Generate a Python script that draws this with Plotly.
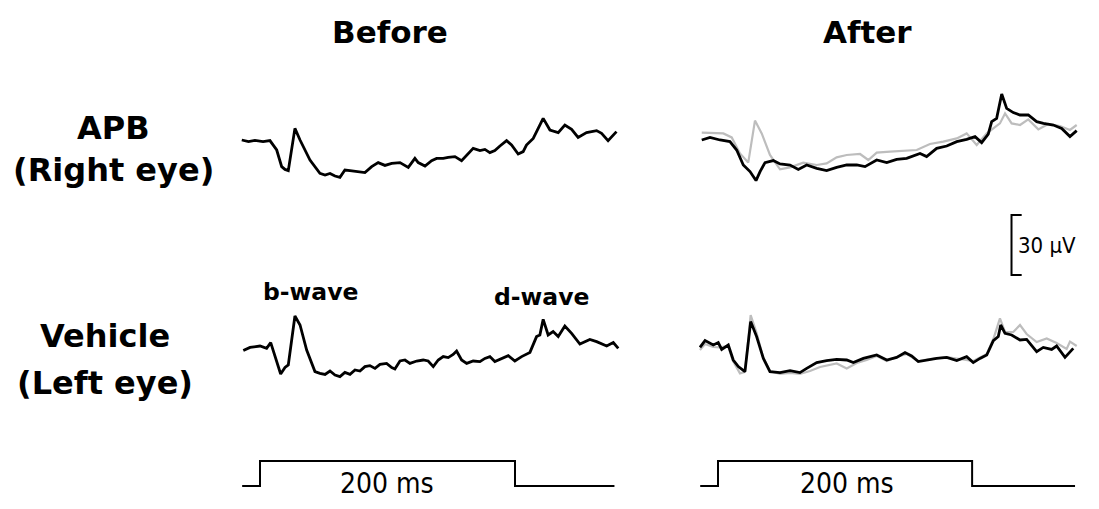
import plotly.graph_objects as go

# ---------------- data (time in ms from flash onset, amplitude in µV) ----------------
apb_before_t = [-14.3, -9.0, -4.0, 2.4, 7.8, 13.1, 17.0, 19.6, 22.2, 27.4,
                31.4, 39.2, 47.0, 51.0, 54.9, 58.8, 62.7, 66.6, 70.6, 75.8,
                82.3, 87.6, 92.7, 98.0, 103.3, 109.8, 116.3, 121.5, 124.1, 129.4,
                134.6, 138.5, 143.7, 147.6, 152.9, 158.1, 162.1, 167.2, 172.5, 176.4,
                180.3, 184.2, 188.2, 193.4, 197.3, 202.5, 206.4, 209.0, 214.3, 218.2,
                222.1, 227.4, 233.9, 239.1, 244.4, 249.5, 256.1, 264.0, 267.9, 273.0,
                279.6]
apb_before_v = [5.0, 4.2, 4.8, 4.2, 4.7, 0.0, -8.3, -9.7, -10.3, 10.8,
                5.0, -5.0, -11.7, -12.5, -11.7, -13.0, -13.7, -10.0, -10.3, -10.8,
                -11.3, -8.3, -6.3, -7.7, -6.7, -6.3, -8.7, -4.2, -6.3, -8.0,
                -5.3, -4.2, -4.2, -3.7, -3.3, -5.3, -2.5, 0.8, -0.3, 0.3,
                -1.3, -0.3, 2.0, 4.7, 2.5, -2.0, -0.8, 2.5, 5.8, 10.8,
                15.8, 10.0, 8.7, 12.5, 10.3, 6.3, 8.7, 9.7, 8.3, 4.7,
                9.2]

apb_after_t = [-12.8, -6.3, 1.6, 9.4, 14.7, 19.9, 25.2, 29.9, 33.1, 37.0, 43.5, 48.8, 56.7, 63.2,
               69.8, 77.7, 85.5, 93.4, 101.3, 109.2, 115.7, 124.9, 132.8, 140.6, 148.5, 159.0,
               164.2, 172.1, 180.0, 187.9, 195.7, 202.3, 207.5, 212.7, 215.4, 219.3, 223.3, 227.2,
               232.4, 237.7, 244.2, 250.8, 256.1, 263.9, 270.5, 277.0, 282.3]
apb_after_v = [5.0, 6.3, 5.0, 4.2, 0.0, -7.5, -10.8, -15.3, -10.8, -6.3, -5.3, -7.0, -7.5, -9.7,
               -7.5, -9.2, -10.3, -8.7, -7.5, -7.5, -8.3, -5.0, -6.3, -4.7, -4.2, -1.7,
               -3.3, 0.8, 2.0, 4.2, 5.3, 6.7, 3.7, 8.0, 14.2, 15.8, 28.0, 20.8,
               18.7, 17.5, 17.5, 14.2, 13.3, 12.5, 10.8, 6.7, 9.7]

apb_after_ref_t = [-12.8, 4.2, 10.8, 17.3, 23.8, 29.1, 34.4, 40.9, 48.8, 56.7, 67.1, 77.7, 85.5,
                   93.4, 101.3, 111.8, 118.3, 124.9, 135.4, 145.8, 156.4, 166.8, 177.3, 187.9,
                   195.7, 203.6, 211.5, 216.7, 221.9, 225.9, 231.1, 237.7, 244.2, 252.1, 259.9,
                   269.1, 277.0, 282.3]
apb_after_ref_v = [8.7, 8.3, 6.3, -1.7, -6.3, 14.7, 8.3, -2.5, -9.7, -8.7, -6.3, -7.5, -6.7,
                   -3.7, -2.5, -2.0, -5.0, -1.3, -0.8, -0.3, 0.0, 3.0, 4.2, 5.8,
                   8.3, 2.5, 8.3, 10.8, 13.3, 18.3, 13.3, 12.5, 15.3, 10.3, 13.0,
                   12.0, 10.0, 12.5]

veh_before_t = [-13.1, -7.8, 0.0, 5.2, 8.4, 11.8, 16.2, 19.6, 22.2, 27.4,
                31.4, 36.6, 39.2, 43.1, 47.0, 51.0, 54.9, 58.8, 62.7, 66.6,
                70.6, 74.5, 78.4, 82.3, 86.2, 90.2, 94.1, 99.3, 103.3, 105.8,
                109.8, 113.7, 117.6, 122.9, 128.0, 131.9, 135.9, 139.8, 143.7, 147.6,
                151.5, 154.2, 158.1, 162.1, 167.2, 172.5, 176.4, 180.3, 184.2, 189.5,
                194.7, 199.9, 205.2, 211.7, 216.9, 219.5, 222.1, 226.0, 229.9, 233.9,
                239.1, 244.4, 250.9, 258.7, 264.0, 271.9, 277.1, 281.0]
veh_before_v = [-0.3, 1.3, 2.0, 0.8, 3.7, -3.3, -12.0, -8.7, -7.5, 17.0,
                12.5, 0.0, -4.2, -10.8, -11.7, -12.2, -10.5, -12.5, -13.3, -11.2,
                -12.2, -10.0, -10.5, -8.3, -7.8, -9.2, -7.2, -6.7, -8.8, -9.5,
                -5.5, -5.0, -6.7, -5.5, -5.0, -5.5, -8.3, -5.0, -3.3, -3.8,
                -2.2, -0.5, -5.0, -6.7, -5.5, -5.8, -4.2, -3.3, -5.8, -4.2,
                -2.8, -5.5, -3.3, -1.2, 6.7, 7.5, 15.3, 7.5, 9.2, 6.7,
                12.0, 8.3, 3.0, 5.3, 4.2, 2.0, 3.7, 0.8]

veh_after_t = [-14.2, -10.2, -3.7, 0.2, 2.9, 8.1, 12.0, 16.0, 21.2, 25.7, 30.4, 35.7, 40.9, 48.8,
               56.7, 64.5, 69.8, 77.7, 85.5, 93.4, 101.3, 106.5, 114.4, 124.9, 132.8, 140.6,
               147.2, 152.4, 157.6, 164.2, 172.1, 180.0, 187.9, 195.7, 200.9, 206.2, 211.5,
               216.7, 220.6, 222.5, 225.9, 231.1, 237.7, 242.9, 250.8, 256.0, 262.6, 266.5,
               273.1, 279.6]
veh_after_v = [1.3, 4.7, 2.5, 3.7, 0.3, 2.5, -5.0, -8.3, -10.8, 14.2, 6.7, -4.2, -10.8, -11.3,
               -10.3, -11.3, -9.2, -6.3, -5.3, -4.7, -5.0, -6.3, -4.2, -2.5, -5.0, -3.7,
               -1.3, -3.0, -5.8, -5.0, -4.2, -3.7, -5.3, -3.3, -6.3, -4.2, -2.5,
               4.7, 6.7, 12.5, 8.3, 7.5, 5.0, 5.3, -0.8, 1.3, 0.3, 2.0,
               -3.7, 0.8]

veh_after_ref_t = [-14.2, -10.2, -3.9, 1.6, 7.9, 11.8, 17.3, 21.2, 25.7, 30.4, 35.4, 40.9, 48.8,
                   56.7, 64.5, 72.4, 80.3, 93.4, 101.3, 109.2, 117.0, 124.9, 132.8, 140.6, 148.5,
                   157.6, 166.8, 180.0, 190.5, 200.9, 211.5, 216.7, 221.9, 225.9, 232.4, 237.7,
                   242.9, 250.8, 258.7, 266.5, 274.4, 277.0, 282.3]
veh_after_ref_v = [0.0, 3.0, 1.5, 1.3, 2.0, -5.5, -11.7, -11.0, 17.5, 8.5, -3.5, -10.5, -12.0,
                   -11.5, -12.0, -10.5, -8.5, -6.7, -9.2, -6.5, -5.0, -3.0, -5.5, -3.5, -2.0,
                   -5.5, -4.5, -3.5, -4.5, -5.5, -2.0, 5.5, 15.8, 9.0, 9.0, 12.5,
                   8.0, 4.0, 5.8, 3.5, 0.5, 4.2, 2.0]

stim_left_t = [-14, 0, 0, 200, 200, 278]
stim_right_t = [-14, 0, 0, 200, 200, 281]
stim_level = [0, 0, 1, 1, 0, 0]

scale_t = [239, 231, 231, 239]
scale_v = [0, 0, 30, 30]

col_titles = ["Before", "After"]
row_titles = [("APB", "(Right eye)"), ("Vehicle", "(Left eye)")]
wave_labels = ["b-wave", "d-wave"]
stim_label = "200 ms"
scale_label = "30 µV"

# ---------------- layout helpers (pixel geometry of the 1099x509 window) ----------------
WIN_W, WIN_H = 1099, 509
OFF = 8                      # default page margin around the plot div
W, H = WIN_W - 2 * OFF, WIN_H - 2 * OFF

def px(x):
    return (x - OFF) / W
def py(y):
    return 1 - (y - OFF) / H

L0, LS = 260.0, 1.275      # left panel: pixel of t=0, px per ms
R0, RS = 718.0, 1.2706     # right panel
T_RANGE = [-16, 284]
UV = 2.0                    # px per µV

def xdom(origin, scale):
    return [px(origin + T_RANGE[0] * scale), px(origin + T_RANGE[1] * scale)]

def ydom(zero_px, lo, hi, s):
    return [py(zero_px - lo * s), py(zero_px - hi * s)]

fig = go.Figure()
BLACK = "#000000"
GREY = "#bdbdbd"

def add(t, v, xa, ya, color, width):
    fig.add_trace(go.Scatter(x=t, y=v, xaxis=xa, yaxis=ya, mode="lines",
                             line=dict(color=color, width=width), hoverinfo="skip",
                             showlegend=False))

add(apb_before_t, apb_before_v, "x", "y", BLACK, 2.8)
add(apb_after_ref_t, apb_after_ref_v, "x2", "y2", GREY, 2.2)
add(apb_after_t, apb_after_v, "x2", "y2", BLACK, 2.8)
add(veh_before_t, veh_before_v, "x", "y3", BLACK, 2.8)
add(veh_after_ref_t, veh_after_ref_v, "x2", "y4", GREY, 2.2)
add(veh_after_t, veh_after_v, "x2", "y4", BLACK, 2.8)
add(stim_left_t, stim_level, "x", "y5", BLACK, 2)
add(stim_right_t, stim_level, "x2", "y5", BLACK, 2)
add(scale_t, scale_v, "x2", "y6", BLACK, 2)

hidden = dict(visible=False, showgrid=False, zeroline=False, fixedrange=True)
R1 = [-30, 35]
R2 = [-30, 30]
SR = [-0.4, 1.4]
BR = [-5, 35]
fig.update_layout(
    width=W, height=H, margin=dict(l=0, r=0, t=0, b=0),
    paper_bgcolor="white", plot_bgcolor="rgba(0,0,0,0)",
    xaxis=dict(domain=xdom(L0, LS), range=T_RANGE, **hidden),
    xaxis2=dict(domain=xdom(R0, RS), range=T_RANGE, **hidden),
    yaxis=dict(domain=ydom(150, R1[0], R1[1], UV), range=R1, anchor="x", **hidden),
    yaxis2=dict(domain=ydom(150, R1[0], R1[1], UV), range=R1, anchor="x2", **hidden),
    yaxis3=dict(domain=ydom(350, R2[0], R2[1], UV), range=R2, anchor="x", **hidden),
    yaxis4=dict(domain=ydom(350, R2[0], R2[1], UV), range=R2, anchor="x2", **hidden),
    yaxis5=dict(domain=ydom(486, SR[0], SR[1], 25), range=SR, anchor="x", **hidden),
    yaxis6=dict(domain=ydom(275, BR[0], BR[1], UV), range=BR, anchor="x2", **hidden),
    font=dict(family="DejaVu Sans", color="black"),
)

BOLD_FONT = "DejaVu Sans"
THIN_FONT = "DejaVu Sans Condensed, DejaVu Sans"

def note(text, x, y, size, bold=False, xanchor="center", yanchor="middle", family=BOLD_FONT):
    fig.add_annotation(text=f"<b>{text}</b>" if bold else text, x=px(x), y=py(y),
                       xref="paper", yref="paper", showarrow=False, xanchor=xanchor,
                       yanchor=yanchor, borderpad=0,
                       font=dict(size=size, family=family, color="black"))

note(col_titles[0], 390, 32, 31, True)
note(col_titles[1], 867, 32, 31, True)
note(row_titles[0][0], 113, 128, 32, True)
note(row_titles[0][1], 113, 170, 32, True)
note(row_titles[1][0], 105, 336, 32, True)
note(row_titles[1][1], 105, 383, 32, True)
note(wave_labels[0], 310, 292, 23.5, True)
note(wave_labels[1], 541, 297, 23.5, True)
note(stim_label, 387, 501, 28, yanchor="bottom", family=THIN_FONT)
note(stim_label, 847, 501, 28, yanchor="bottom", family=THIN_FONT)
note(scale_label, 1017, 245, 22, xanchor="left", family=THIN_FONT)

fig.write_html("out.html")
